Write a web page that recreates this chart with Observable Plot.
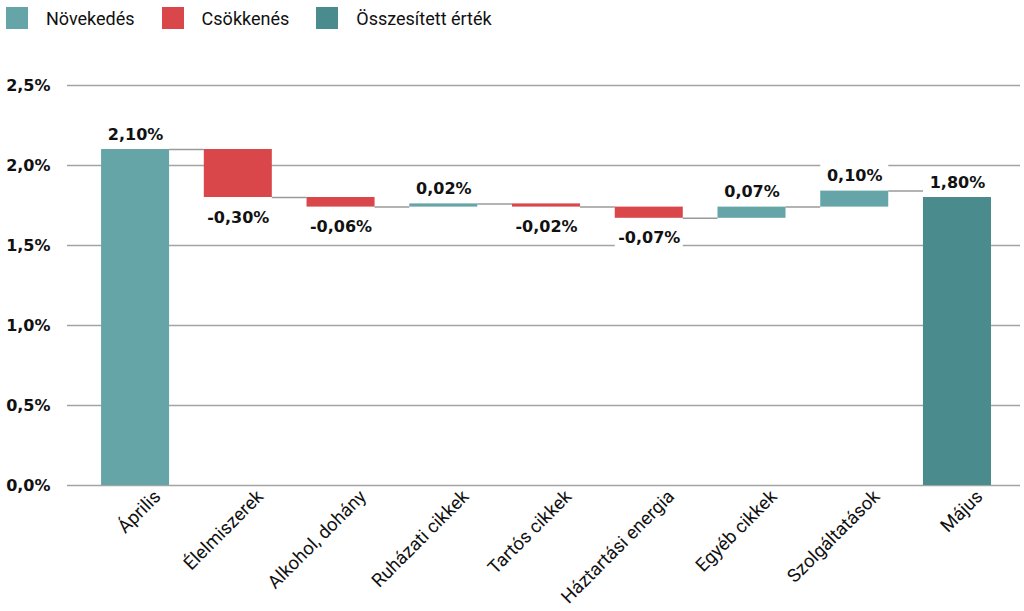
<!DOCTYPE html>
<html>
<head>
<meta charset="utf-8">
<script src="https://cdn.jsdelivr.net/npm/d3@7"></script>
<script src="https://cdn.jsdelivr.net/npm/@observablehq/plot@0.6"></script>
<style>
  body { margin: 0; background: #fff; font-family: Roboto, "Noto Sans", sans-serif; }
  #legend { height: 40px; display: flex; align-items: flex-start; padding-top: 7px; box-sizing: border-box; }
  .item { display: flex; align-items: center; margin-left: 6px; margin-right: 21px; font-size: 18px; color: #111; }
  .sw { width: 22px; height: 22px; margin-right: 18px; }
</style>
</head>
<body>
<div id="legend"></div>
<div id="chart"></div>
<script>
// Inflation change breakdown, April → May (percentage points)
const categories = ["Április", "Élelmiszerek", "Alkohol, dohány", "Ruházati cikkek", "Tartós cikkek",
  "Háztartási energia", "Egyéb cikkek", "Szolgáltatások", "Május"];
const changes = [2.10, -0.30, -0.06, 0.02, -0.02, -0.07, 0.07, 0.10, 1.80];
const kinds = ["Növekedés", "Csökkenés", "Csökkenés", "Növekedés", "Csökkenés",
  "Csökkenés", "Növekedés", "Növekedés", "Összesített érték"];
const legendLabels = ["Növekedés", "Csökkenés", "Összesített érték"];
const legendColors = ["#66a5a7", "#d9474a", "#4a8b8e"];
const yTicks = [0, 0.5, 1.0, 1.5, 2.0, 2.5];

// running totals for the waterfall
let run = 0;
const rows = categories.map((c, i) => {
  const kind = kinds[i];
  let start, end;
  if (kind === "Összesített érték") { start = 0; end = changes[i]; }
  else { start = run; end = run + changes[i]; }
  run = end;
  return { cat: c, kind, value: changes[i], start, end, top: Math.max(start, end), bottom: Math.min(start, end) };
});
const connectors = rows.slice(0, -1).map(r => ({ cat: r.cat, y: r.end }));
const above = rows.filter(r => r.value >= 0).map(r => ({ ...r, at: r.top }));
const below = rows.filter(r => r.value < 0).map(r => ({ ...r, at: r.bottom }));
const fmt = v => v.toFixed(2).replace(".", ",") + "%";

// legend
const legend = document.getElementById("legend");
legendLabels.forEach((l, i) => {
  const it = document.createElement("div");
  it.className = "item";
  it.innerHTML = `<span class="sw" style="background:${legendColors[i]}"></span><span>${l}</span>`;
  legend.appendChild(it);
});

const boldFont = "'DejaVu Sans', sans-serif";
const base = {
  width: 1024,
  height: 571,
  marginLeft: 67,
  marginRight: 4,
  marginTop: 45,
  marginBottom: 126,
  style: { fontFamily: "Roboto, sans-serif", background: "#fff" },
  x: { domain: categories, paddingInner: 0.338, paddingOuter: 0.307, align: 0.54, round: false, label: null },
  y: { domain: [0, 2.5], label: null },
  color: { domain: legendLabels, range: legendColors }
};

// band geometry for the connector segments between neighbouring bars
const probe = Plot.plot({ ...base, marks: [Plot.barY(rows, { x: "cat", y1: "start", y2: "end" })] });
const xs = probe.scale("x");
const bw = xs.bandwidth, step = xs.step;

const chart = Plot.plot({
  ...base,
  marks: [
    Plot.ruleY(yTicks, { stroke: "#a3a3a3", strokeWidth: 1.5 }),
    Plot.axisY({ ticks: yTicks, tickSize: 0, tickPadding: 17, fontSize: 16, fontWeight: "bold", fill: "#111",
      fontFamily: boldFont, tickFormat: d => d.toFixed(1).replace(".", ",") + "%" }),
    Plot.axisX({ tickSize: 0, tickRotate: -45, fontSize: 18.5, fill: "#111", tickPadding: 8, dx: 22 }),
    Plot.tickY(connectors, { x: "cat", y: "y", stroke: "#9a9a9a", strokeWidth: 1.5,
      dx: bw, insetRight: 2 * bw - step }),
    // white plates behind the value labels
    Plot.barY(above, { x: "cat", y1: "at", y2: "at", fill: "#fff", insetTop: -12, insetBottom: -12, dy: -15 }),
    Plot.barY(below, { x: "cat", y1: "at", y2: "at", fill: "#fff", insetTop: -12, insetBottom: -12, dy: 20 }),
    Plot.barY(rows, { x: "cat", y1: "start", y2: "end", fill: "kind" }),
    Plot.text(above, { x: "cat", y: "at", text: d => fmt(d.value), dy: -15, fontSize: 16, fontWeight: "bold",
      fontFamily: boldFont, fill: "#111" }),
    Plot.text(below, { x: "cat", y: "at", text: d => fmt(d.value), dy: 20, fontSize: 16, fontWeight: "bold",
      fontFamily: boldFont, fill: "#111" })
  ]
});
document.getElementById("chart").appendChild(chart);
</script>
</body>
</html>
